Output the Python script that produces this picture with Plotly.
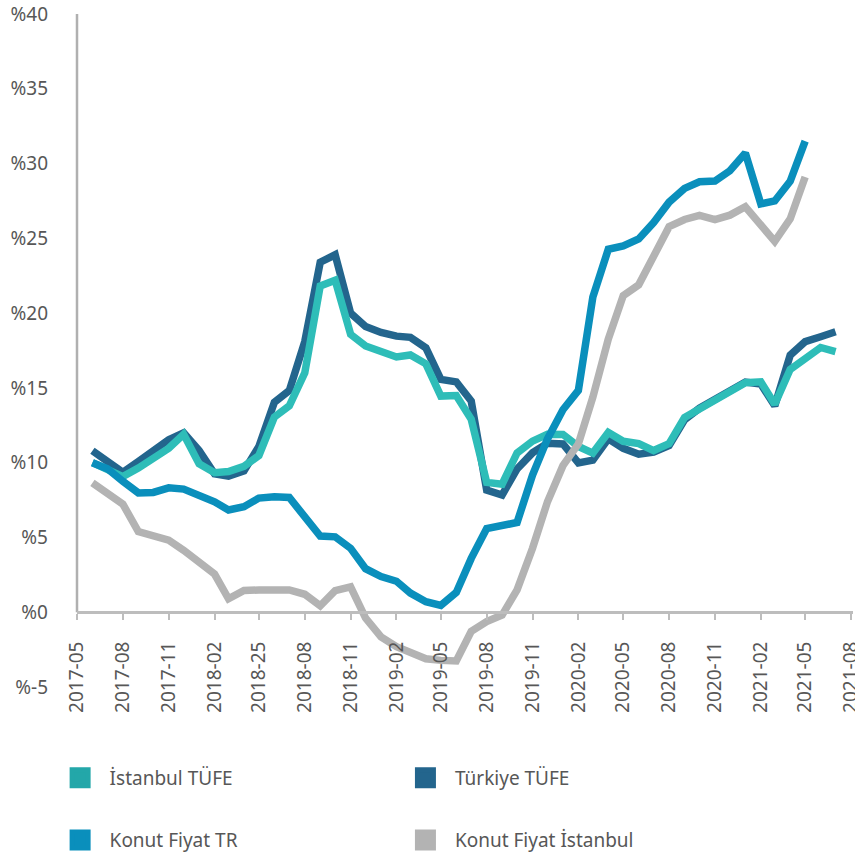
import plotly.graph_objects as go
import pandas as pd

# ---------------- data ----------------
months = [d.strftime("%Y-%m-%d") for d in pd.date_range("2017-06-01", periods=50, freq="MS")]

tick_dates = [d.strftime("%Y-%m-%d") for d in pd.date_range("2017-05-01", periods=18, freq="3MS")]
tick_labels = ["2017-05", "2017-08", "2017-11", "2018-02", "2018-25", "2018-08",
               "2018-11", "2019-02", "2019-05", "2019-08", "2019-11", "2020-02",
               "2020-05", "2020-08", "2020-11", "2021-02", "2021-05", "2021-08"]

y_ticks = [-5, 0, 5, 10, 15, 20, 25, 30, 35, 40]
y_labels = ["%-5", "%0", "%5", "%10", "%15", "%20", "%25", "%30", "%35", "%40"]

istanbul_tufe = [10.0, 9.56, 9.07, 9.64, 10.29, 10.96, 11.9, 9.92, 9.33, 9.41,
                 9.76, 10.48, 13.05, 13.8, 16.0, 21.82, 22.2, 18.58, 17.8, 17.44,
                 17.07, 17.2, 16.61, 14.45, 14.49, 12.9, 8.68, 8.56, 10.65, 11.44,
                 11.9, 11.89, 11.08, 10.64, 12.02, 11.43, 11.28, 10.81, 11.27, 13.02,
                 13.58, 14.23, 14.78, 15.35, 15.41, 13.9, 16.24, 17.03, 17.7, 17.42]

turkiye_tufe = [10.8, 10.06, 9.35, 10.08, 10.81, 11.54, 12.0, 10.81, 9.26, 9.1,
                9.45, 11.09, 14.04, 14.82, 18.1, 23.4, 23.9, 20.0, 19.1, 18.71,
                18.46, 18.38, 17.68, 15.57, 15.4, 14.12, 8.16, 7.84, 9.58, 10.66,
                11.29, 11.25, 9.98, 10.17, 11.6, 10.96, 10.57, 10.7, 11.15, 12.86,
                13.64, 14.27, 14.8, 15.39, 15.26, 13.8, 17.19, 18.09, 18.42, 18.75]

konut_tr = [10.0, 9.6, 8.75, 7.98, 8.01, 8.32, 8.23, 7.85, 7.38, 6.84,
            7.06, 7.63, 7.72, 7.67, 6.46, 5.09, 5.04, 4.27, 2.91, 2.39,
            2.07, 1.28, 0.7, 0.45, 1.32, 3.6, 5.59, 5.85, 6.0, 9.17,
            11.59, 13.54, 14.83, 21.07, 24.27, 24.5, 24.96, 26.06, 27.42, 28.34,
            28.78, 28.83, 29.52, 30.7, 27.3, 27.5, 28.82, 31.5]

konut_ist = [8.65, 7.94, 7.23, 5.39, 5.17, 4.82, 4.14, 3.4, 2.55, 0.9,
             1.45, 1.49, 1.49, 1.49, 1.2, 0.43, 1.45, 1.7, -0.39, -1.65,
             -2.3, -2.75, -3.11, -3.22, -3.26, -1.28, -0.63, -0.19, 1.5, 4.28,
             7.39, 9.8, 11.26, 14.38, 18.27, 21.17, 21.89, 23.8, 25.78, 26.26,
             26.53, 26.25, 26.55, 27.11, 25.9, 24.8, 26.3, 29.1]

# ---------------- style ----------------
C_IST_TUFE = "#2EBDB8"
C_IST_TUFE_LEG = "#23A7A9"
C_TR_TUFE = "#23658D"
C_KONUT_TR = "#0A8FBC"
C_KONUT_IST = "#B3B3B3"
AXIS_C = "#BDBDBD"
TEXT_C = "#575757"
FONT = "Noto Sans"
FS = 19
LW = 7.5

fig = go.Figure()

series = [
    ("Türkiye TÜFE", turkiye_tufe, C_TR_TUFE),
    ("İstanbul TÜFE", istanbul_tufe, C_IST_TUFE),
    ("Konut Fiyat TR", konut_tr, C_KONUT_TR),
    ("Konut Fiyat İstanbul", konut_ist, C_KONUT_IST),
]
for name, vals, col in series:
    fig.add_trace(go.Scatter(
        x=months[:len(vals)], y=vals, mode="lines", name=name,
        line=dict(color=col, width=LW), showlegend=False, hoverinfo="x+y"))

# helper trace for upper tick marks axis
fig.add_trace(go.Scatter(x=[None], y=[None], xaxis="x2", showlegend=False,
                         hoverinfo="skip", mode="lines"))

# legend entries (square markers), one legend each
legend_items = [
    ("İstanbul TÜFE", C_IST_TUFE_LEG, "legend"),
    ("Türkiye TÜFE", C_TR_TUFE, "legend2"),
    ("Konut Fiyat TR", C_KONUT_TR, "legend3"),
    ("Konut Fiyat İstanbul", C_KONUT_IST, "legend4"),
]
for name, col, lg in legend_items:
    fig.add_trace(go.Scatter(
        x=[None], y=[None], mode="markers", name=name, legend=lg,
        marker=dict(symbol="square", size=16, color=col,
                    line=dict(color=col, width=5)),
        showlegend=True, hoverinfo="skip"))

zero_pos = 5 / 45

fig.update_layout(
    width=855, height=852,
    margin=dict(l=77, r=2, t=14, b=165, autoexpand=False),
    paper_bgcolor="white", plot_bgcolor="white",
    font=dict(family=FONT, size=FS, color=TEXT_C),
    xaxis=dict(
        type="date", range=["2017-05-01", "2021-08-05"],
        anchor="free", position=zero_pos,
        showline=True, linecolor=AXIS_C, linewidth=2.5,
        ticks="outside", ticklen=6, tickwidth=2, tickcolor=AXIS_C,
        tickmode="array", tickvals=tick_dates, ticktext=tick_labels,
        tickangle=-90, tickfont=dict(family=FONT, size=FS, color=TEXT_C),
        ticklabelstandoff=14, ticklabeloverflow="allow",
        showgrid=False, zeroline=False, automargin=False,
    ),
    xaxis2=dict(
        overlaying="x", matches="x", anchor="free", position=zero_pos,
        ticks="inside", ticklen=6, tickwidth=2, tickcolor=AXIS_C,
        tickmode="array", tickvals=tick_dates[1:], showticklabels=False,
        showline=False, showgrid=False, zeroline=False, automargin=False,
    ),
    yaxis=dict(
        range=[-5, 40], tickmode="array", tickvals=y_ticks, ticktext=y_labels,
        ticks="", showline=False, showgrid=False, zeroline=False,
        tickfont=dict(family=FONT, size=FS, color=TEXT_C),
        ticklabelstandoff=28, automargin=False,
    ),
    shapes=[dict(type="line", xref="paper", yref="y", x0=0, x1=0, y0=0, y1=40,
                 line=dict(color="#B0B0B0", width=2.5), layer="below")],
)

leg_common = dict(orientation="h", xanchor="left", yanchor="middle",
                  bgcolor="rgba(0,0,0,0)", itemwidth=49,
                  font=dict(family=FONT, size=FS, color=TEXT_C))
fig.update_layout(
    legend=dict(x=-0.034, y=-0.135, **leg_common),
    legend2=dict(x=0.411, y=-0.135, **leg_common),
    legend3=dict(x=-0.034, y=-0.2275, **leg_common),
    legend4=dict(x=0.411, y=-0.2275, **leg_common),
)

fig.write_html("out.html", config={"displayModeBar": False},
               post_script="document.body.style.margin='0';")
